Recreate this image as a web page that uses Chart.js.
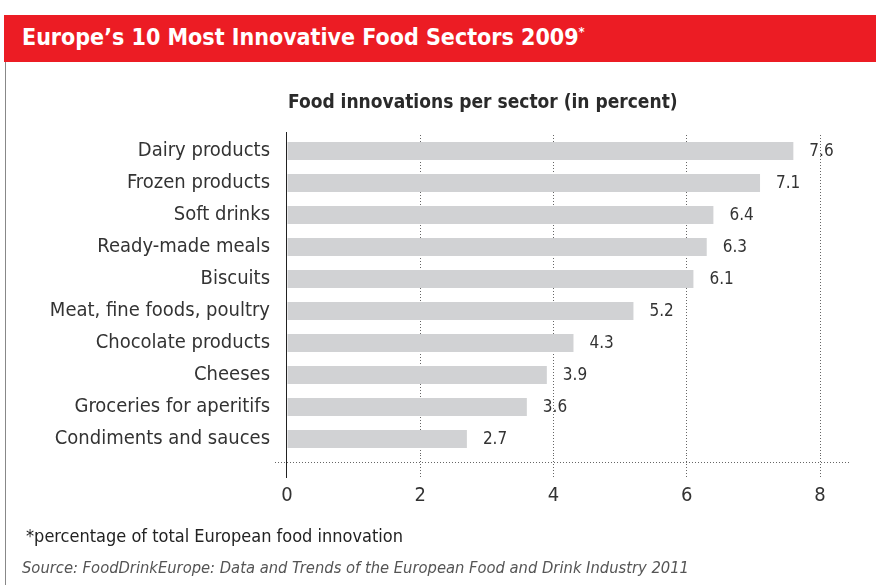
<!DOCTYPE html>
<html>
<head>
<meta charset="utf-8">
<script src="https://cdn.jsdelivr.net/npm/chart.js@4/dist/chart.umd.min.js"></script>
<style>
  body { margin: 0; background: #fff; font-family: "DejaVu Sans Condensed", "DejaVu Sans", sans-serif; }
  #wrap { position: relative; width: 876px; height: 585px; overflow: hidden; }
  #header { position: absolute; left: 4px; top: 15px; width: 872px; height: 47px; background: #ec1c24; }
  #header span { position: absolute; left: 18px; top: 9px; color: #fff; font-weight: bold; font-size: 23px; }
  #header sup { font-size: 13px; }
  #border { position: absolute; left: 5px; top: 62px; width: 1px; height: 523px; background: #888; }
  #subtitle { position: absolute; left: 288px; top: 90px; font-size: 19px; font-weight: bold; color: #2a2a2a; }
  #note { position: absolute; left: 26px; top: 525px; font-size: 18px; color: #222; }
  #source { position: absolute; left: 22px; top: 558px; font-size: 16.4px; color: #555; font-style: italic; }
  canvas { position: absolute; left: 0; top: 0; }
</style>
</head>
<body>
<div id="wrap">
  <canvas id="chart" width="876" height="585"></canvas>
  <div id="header"><span>Europe’s 10 Most Innovative Food Sectors 2009<sup>*</sup></span></div>
  <div id="border"></div>
  <div id="subtitle">Food innovations per sector (in percent)</div>
  <div id="note">*percentage of total European food innovation</div>
  <div id="source">Source: FoodDrinkEurope: Data and Trends of the European Food and Drink Industry 2011</div>
</div>
<script>
// sectors and their share of food innovations (%)
var sectors = ['Dairy products', 'Frozen products', 'Soft drinks', 'Ready-made meals', 'Biscuits',
    'Meat, fine foods, poultry', 'Chocolate products', 'Cheeses', 'Groceries for aperitifs', 'Condiments and sauces'];
var shares = [7.6, 7.1, 6.4, 6.3, 6.1, 5.2, 4.3, 3.9, 3.6, 2.7];
var xTicks = [0, 2, 4, 6, 8];

var fontFamily = '"DejaVu Sans Condensed", "DejaVu Sans", sans-serif';

// value labels, extended axis line and dotted baseline
var decorations = {
    id: 'decorations',
    afterDatasetsDraw: function (chart) {
        var ctx = chart.ctx;
        var area = chart.chartArea;
        var x0 = chart.scales.x.getPixelForValue(0);
        ctx.save();
        // dotted horizontal line below the bars
        ctx.strokeStyle = '#666';
        ctx.lineWidth = 1;
        ctx.setLineDash([1, 2]);
        ctx.beginPath();
        ctx.moveTo(x0 - 12, area.bottom + 7.5);
        ctx.lineTo(area.right + 30, area.bottom + 7.5);
        ctx.stroke();
        // solid axis line
        ctx.setLineDash([]);
        ctx.strokeStyle = '#222';
        ctx.beginPath();
        ctx.moveTo(x0 - 0.5, area.top - 3);
        ctx.lineTo(x0 - 0.5, area.bottom + 23);
        ctx.stroke();
        // values
        ctx.fillStyle = '#333';
        ctx.font = '17px ' + fontFamily;
        ctx.textBaseline = 'middle';
        chart.getDatasetMeta(0).data.forEach(function (bar, i) {
            ctx.fillText(String(shares[i]), bar.x + 16, bar.y + 1);
        });
        ctx.restore();
    }
};

new Chart(document.getElementById('chart').getContext('2d'), {
    type: 'bar',
    data: {
        labels: sectors,
        datasets: [{
            data: shares,
            backgroundColor: '#d1d2d4',
            borderWidth: 0,
            categoryPercentage: 1,
            barPercentage: 0.57
        }]
    },
    options: {
        indexAxis: 'y',
        responsive: false,
        animation: false,
        layout: { padding: { top: 135, right: 56, bottom: 0, left: 0 } },
        plugins: { legend: { display: false }, tooltip: { enabled: false } },
        scales: {
            x: {
                min: 0,
                max: 8,
                afterBuildTicks: function (axis) {
                    axis.ticks = xTicks.map(function (v) { return { value: v }; });
                },
                afterFit: function (axis) { axis.height = 130; },
                border: { display: false, dash: [1, 2] },
                grid: {
                    color: function (c) { return c.tick && c.tick.value === 0 ? 'rgba(0,0,0,0)' : '#666'; },
                    tickColor: function (c) { return c.tick && c.tick.value === 0 ? 'rgba(0,0,0,0)' : '#666'; },
                    tickBorderDash: [1, 2],
                    tickLength: 22
                },
                ticks: { color: '#333', padding: 7, font: { family: fontFamily, size: 20 } }
            },
            y: {
                afterFit: function (axis) { axis.width = 287; },
                border: { display: false },
                grid: { display: false },
                ticks: { color: '#333', padding: 9, font: { family: fontFamily, size: 20 } }
            }
        }
    },
    plugins: [decorations]
});
</script>
</body>
</html>
